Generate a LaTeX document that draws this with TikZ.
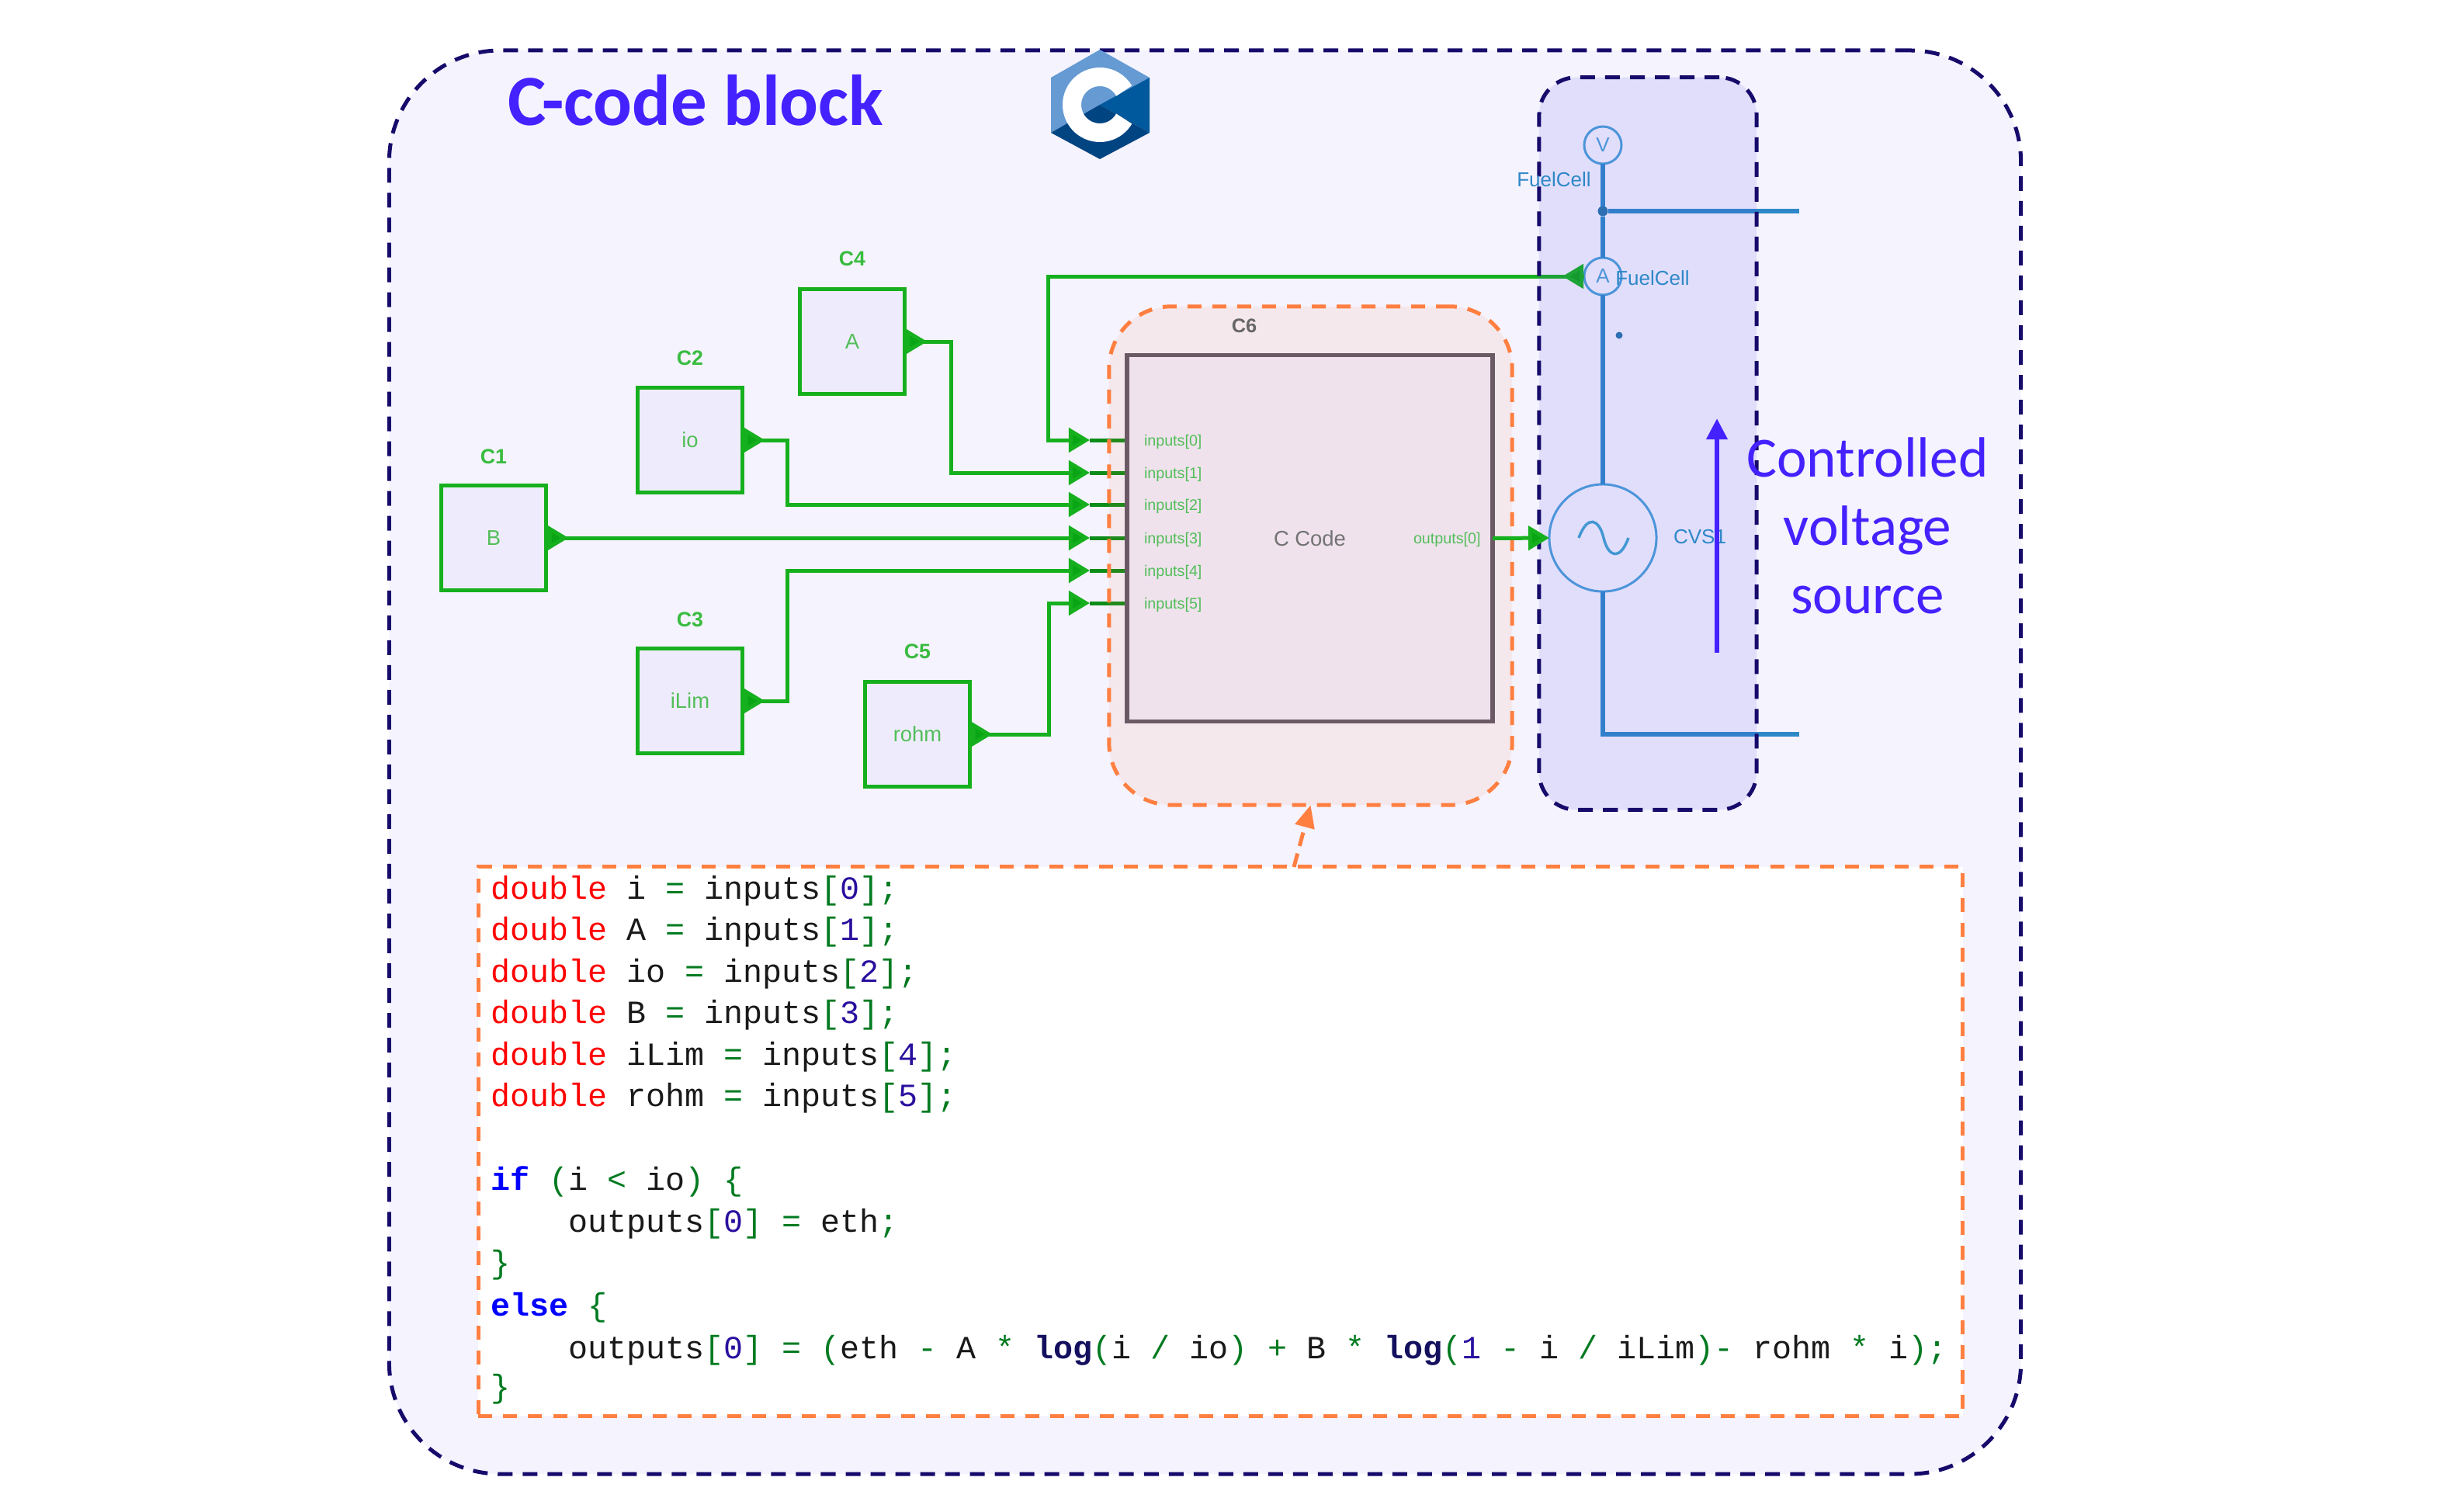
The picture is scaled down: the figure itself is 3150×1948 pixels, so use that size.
\documentclass[tikz,border=0pt]{standalone}
\usepackage{fontspec}
\setmainfont{Carlito}
\setsansfont{Liberation Sans}
\setmonofont{Liberation Mono}
\usetikzlibrary{arrows.meta,shapes.geometric}
\definecolor{navyedge}{HTML}{160A6B}
\definecolor{outerfill}{HTML}{F5F3FE}
\definecolor{sourcetint}{HTML}{574DED}
\definecolor{constfill}{HTML}{EEECFC}
\definecolor{orangeedge}{HTML}{FF7F41}
\definecolor{titleblue}{HTML}{4422FF}
\definecolor{wiregreen}{HTML}{16B01E}
\definecolor{tipgreen}{HTML}{0AA514}
\definecolor{stubgreen}{HTML}{0C8C18}
\definecolor{textgreen}{HTML}{52BE5A}
\definecolor{wireblue}{HTML}{2E88C8}
\definecolor{meterblue}{HTML}{4C9FD8}
\definecolor{blockedge}{HTML}{6B5A66}
\definecolor{blockfill}{HTML}{EFE2EC}
\definecolor{codegreen}{HTML}{007A20}
\definecolor{codenum}{HTML}{2A0F9E}
\definecolor{codefn}{HTML}{14105E}
\definecolor{logolight}{HTML}{659AD2}
\definecolor{logomid}{HTML}{00599C}
\definecolor{logodark}{HTML}{004482}
\newcommand{\ty}[1]{\textcolor{red}{#1}}
\newcommand{\kw}[1]{\textcolor{blue}{\bfseries #1}}
\newcommand{\fn}[1]{\textcolor{codefn}{\bfseries #1}}
\newcommand{\nm}[1]{\textcolor{codenum}{#1}}
\newcommand{\op}[1]{\textcolor{codegreen}{#1}}
\begin{document}
\begin{tikzpicture}[x=0.01cm,y=-0.01cm,
  every node/.style={inner sep=0pt,outer sep=0pt},
  outerpanel/.style={draw=navyedge,fill=outerfill,line width=0.05cm,dash pattern=on 0.19cm off 0.13cm,rounded corners=1.43cm,minimum width=21.01cm,minimum height=18.33cm},
  sourcepanel/.style={draw=navyedge,fill=sourcetint,fill opacity=0.12,line width=0.05cm,dash pattern=on 0.19cm off 0.13cm,rounded corners=0.48cm,minimum width=2.8cm,minimum height=9.43cm},
  blockpanel/.style={draw=orangeedge,fill=orangeedge,fill opacity=0.095,line width=0.05cm,dash pattern=on 0.18cm off 0.14cm,rounded corners=0.8cm,minimum width=5.19cm,minimum height=6.42cm},
  codebox/.style={draw=orangeedge,fill=white,line width=0.05cm,dash pattern=on 0.18cm off 0.14cm,minimum width=19.11cm,minimum height=7.07cm},
  constbox/.style={draw=wiregreen,fill=constfill,line width=0.05cm,minimum size=1.35cm,font=\sffamily\fontsize{7.8pt}{9pt}\selectfont,text=textgreen},
  constname/.style={font=\sffamily\bfseries\fontsize{7.6pt}{9pt}\selectfont,text=wiregreen!85!white},
  portname/.style={anchor=west,font=\sffamily\fontsize{5.6pt}{7pt}\selectfont,text=textgreen},
  wire/.style={draw=wiregreen,line width=0.05cm},
  stubwire/.style={draw=stubgreen,line width=0.05cm},
  tipped/.style={-{Triangle[length=0.27cm,width=0.31cm,fill=tipgreen]}},
  bluewire/.style={draw=wireblue,line width=0.055cm},
  meter/.style={circle,draw=meterblue,line width=0.03cm,minimum size=0.48cm,font=\sffamily\fontsize{7.4pt}{9pt}\selectfont,text=meterblue},
  bluename/.style={font=\sffamily\fontsize{7.4pt}{9pt}\selectfont,text=wireblue},
  codeline/.style={anchor=base west,font=\ttfamily\fontsize{11.86pt}{15pt}\selectfont,text=black!90}]
 \useasboundingbox (0,0) rectangle (3150,1948);
 \node [outerpanel] (outer) at (1552.5,982) {};
 \node [anchor=base west,font=\bfseries\fontsize{26.4pt}{30pt}\selectfont,text=titleblue] (title) at (654,161) {C-code block};
 % logo
 \fill [logolight] (1417,64) -- (1481,100) -- (1354,171) -- (1354,100) -- cycle;
 \fill [logomid] (1481,100) -- (1481,171) -- (1417,135) -- cycle;
 \fill [logodark] (1354,171) -- (1417,135) -- (1481,171) -- (1417,205) -- cycle;
 \draw [white,line width=0.24cm] (1417,135) ++(30:36) arc (30:330:36);
 % constants
 \node [constbox] (c1) at (636,693) {B};
 \node [constbox] (c2) at (889,567) {io};
 \node [constbox] (c3) at (889,903) {iLim};
 \node [constbox] (c4) at (1098,440) {A};
 \node [constbox] (c5) at (1182,946) {rohm};
 \node [constname] (c1name) at (636,588) {C1};
 \node [constname] (c2name) at (889,461) {C2};
 \node [constname] (c3name) at (889,798) {C3};
 \node [constname] (c4name) at (1098,333) {C4};
 \node [constname] (c5name) at (1182,839) {C5};
 % ends of the input wires
 \coordinate (t0) at (1404,567);
 \coordinate (t1) at (1404,609);
 \coordinate (t2) at (1404,650);
 \coordinate (t3) at (1404,693);
 \coordinate (t4) at (1404,735);
 \coordinate (t5) at (1404,777);
 \coordinate (in0) at (1452,567);
 \coordinate (in1) at (1452,609);
 \coordinate (in2) at (1452,650);
 \coordinate (in3) at (1452,693);
 \coordinate (in4) at (1452,735);
 \coordinate (in5) at (1452,777);
 \coordinate (b0) at (1350,356);
 \coordinate (b1) at (1225,609);
 \coordinate (b2) at (1014,650);
 \coordinate (b4) at (1014,735);
 \coordinate (b5) at (1351,777);
 % measurement
 \node [meter] (vm) at (2065,187) {V};
 \node [meter] (am) at (2065,356) {A};
 \node [circle,draw=meterblue,line width=0.03cm,minimum size=1.38cm] (src) at (2065,693) {};
 \node [circle,fill=wireblue!85!black,minimum size=0.13cm] (jn) at (2065,272) {};
 \node [circle,fill=wireblue!85!black,minimum size=0.09cm] (spot) at (2086,432) {};
 \coordinate (topend) at (2318,272);
 \coordinate (botend) at (2318,946);
 % wires
 \draw [bluewire] (vm.south) -- (jn) -- (am.north);
 \draw [bluewire] (am.south) -- (src.north);
 \draw [bluewire] (jn) -- (topend);
 \draw [bluewire] (src.south) |- (botend);
 \draw [wire,tipped] (am.west) -| (b0) |- (t0);
 \draw [wire,tipped] (c4.east) -| (b1) -- (t1);
 \draw [wire,tipped] (c2.east) -| (b2) -- (t2);
 \draw [wire,tipped] (c1.east) -- (t3);
 \draw [wire,tipped] (c3.east) -| (b4) -- (t4);
 \draw [wire,tipped] (c5.east) -| (b5) -- (t5);
 \draw [stubwire] (t0) -- (in0);
 \draw [stubwire] (t1) -- (in1);
 \draw [stubwire] (t2) -- (in2);
 \draw [stubwire] (t3) -- (in3);
 \draw [stubwire] (t4) -- (in4);
 \draw [stubwire] (t5) -- (in5);
 \draw [wire,tipped] (c1.east) -- ++(29,0);
 \draw [wire,tipped] (c2.east) -- ++(29,0);
 \draw [wire,tipped] (c3.east) -- ++(29,0);
 \draw [wire,tipped] (c4.east) -- ++(29,0);
 \draw [wire,tipped] (c5.east) -- ++(29,0);
 \draw [wire,tipped] (am.west) -- ++(-28,0);
 % panels
 \node [blockpanel] (round) at (1688.5,716) {};
 \node [sourcepanel] (vpanel) at (2123,571.5) {};
 % C code block
 \node [rectangle,draw=blockedge,fill=blockfill,line width=0.055cm,minimum width=4.71cm,minimum height=4.72cm,font=\sffamily\fontsize{7.8pt}{9pt}\selectfont,text=black!55] (c6) at (1687.5,693.5) {C Code};
 \node [font=\sffamily\bfseries\fontsize{7.2pt}{9pt}\selectfont,text=black!60] (c6name) at (1603,420) {C6};
 \node [portname] (p0) at (1474,569) {inputs[0]};
 \node [portname] (p1) at (1474,611) {inputs[1]};
 \node [portname] (p2) at (1474,652) {inputs[2]};
 \node [portname] (p3) at (1474,695) {inputs[3]};
 \node [portname] (p4) at (1474,737) {inputs[4]};
 \node [portname] (p5) at (1474,779) {inputs[5]};
 \node [portname] (q0) at (1821,695) {outputs[0]};
 \draw [wire,tipped] (c6.east) -- (src.west);
 % names in the source panel
 \node [bluename] (vname) at (2002,231) {FuelCell};
 \node [bluename] (aname) at (2129,358) {FuelCell};
 \node [bluename] (cvsname) at (2190,692) {CVS1};
 \draw [meterblue!70!wireblue,line width=0.035cm] (2034,693) .. controls (2045,663) and (2060,668) .. (2066,693) .. controls (2072,718) and (2087,723) .. (2098,693);
 % controlled voltage
 \coordinate (vfrom) at (2212,841);
 \coordinate (vto) at (2212,539);
 \draw [titleblue,line width=0.065cm,-{Triangle[length=0.27cm,width=0.26cm]}] (vfrom) -- (vto);
 \node [align=center,font=\fontsize{20.8pt}{25pt}\selectfont,text=titleblue] (vtext) at (2406,677) {Controlled\\voltage\\source};
 % code
 \node [codebox] (code) at (1572.5,1470.5) {};
 \coordinate (ptr) at (1667,1117);
 \draw [orangeedge,line width=0.05cm,dash pattern=on 0.18cm off 0.1cm,-{Triangle[length=0.29cm,width=0.25cm,fill=orangeedge]}] (ptr) -- (round.south);
 \node [codeline] (l1) at (632,1158) {\ty{double} i \op{=} inputs\op{[}\nm{0}\op{];}};
 \node [codeline] (l2) at (632,1211) {\ty{double} A \op{=} inputs\op{[}\nm{1}\op{];}};
 \node [codeline] (l3) at (632,1265) {\ty{double} io \op{=} inputs\op{[}\nm{2}\op{];}};
 \node [codeline] (l4) at (632,1318) {\ty{double} B \op{=} inputs\op{[}\nm{3}\op{];}};
 \node [codeline] (l5) at (632,1372) {\ty{double} iLim \op{=} inputs\op{[}\nm{4}\op{];}};
 \node [codeline] (l6) at (632,1425) {\ty{double} rohm \op{=} inputs\op{[}\nm{5}\op{];}};
 \node [codeline] (l7) at (632,1533) {\kw{if} \op{(}i \op{<} io\op{)} \op{\{}};
 \node [codeline] (l8) at (732,1587) {outputs\op{[}\nm{0}\op{]} \op{=} eth\op{;}};
 \node [codeline] (l9) at (632,1640) {\op{\}}};
 \node [codeline] (l10) at (632,1695) {\kw{else} \op{\{}};
 \node [codeline] (l11) at (732,1750) {outputs\op{[}\nm{0}\op{]} \op{=} \op{(}eth \op{-} A \op{*} \fn{log}\op{(}i \op{/} io\op{)} \op{+} B \op{*} \fn{log}\op{(}\nm{1} \op{-} i \op{/} iLim\op{)-} rohm \op{*} i\op{);}};
 \node [codeline] (l12) at (632,1800) {\op{\}}};
\end{tikzpicture}
\end{document}
